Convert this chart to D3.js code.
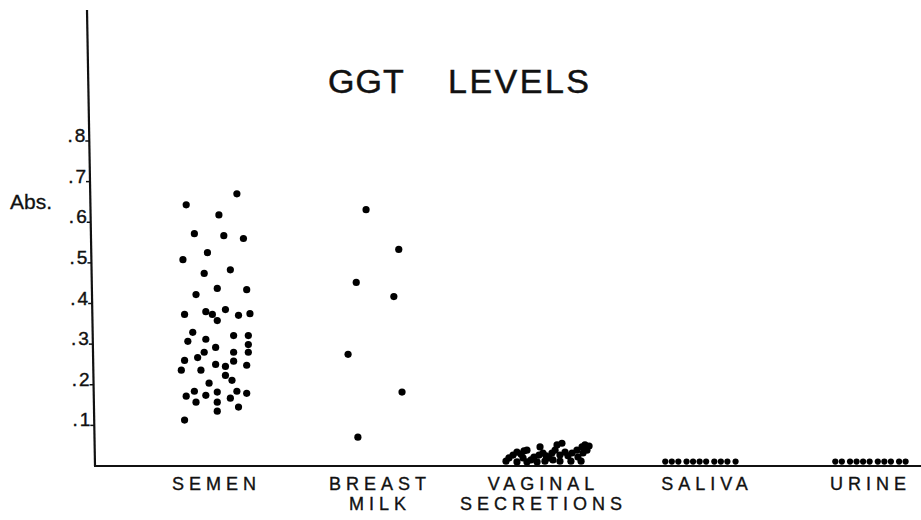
<!DOCTYPE html>
<html>
<head>
<meta charset="utf-8">
<script src="https://cdn.jsdelivr.net/npm/d3@7"></script>
<style>
  body { margin: 0; background: #fff; }
  text { font-family: "Liberation Sans", Arial, sans-serif; fill: #111; }
</style>
</head>
<body>
<div id="chart"></div>
<script>
// Categories along the bottom (label lines)
const categories = ["SEMEN", "BREAST MILK", "VAGINAL SECRETIONS", "SALIVA", "URINE"];
const categoryLines = [["SEMEN"], ["BREAST", "MILK"], ["VAGINAL", "SECRETIONS"], ["SALIVA"], ["URINE"]];
const yTicks = [0.1, 0.2, 0.3, 0.4, 0.5, 0.6, 0.7, 0.8];

// Absorbance readings per specimen type, with horizontal spread (in category-step units)
const semenValues = [0.670, 0.643, 0.618, 0.572, 0.567, 0.560, 0.525, 0.508, 0.474, 0.483,
    0.437, 0.434, 0.422, 0.373, 0.380, 0.373, 0.358, 0.385, 0.371, 0.375,
    0.329, 0.307, 0.312, 0.321, 0.321, 0.292, 0.299, 0.280, 0.267, 0.280,
    0.280, 0.260, 0.250, 0.245, 0.258, 0.248, 0.236, 0.236, 0.223, 0.211,
    0.204, 0.184, 0.172, 0.174, 0.182, 0.184, 0.179, 0.157, 0.157, 0.167,
    0.135, 0.145, 0.113];
const semenSpread = [0.14, -0.17, 0.03, -0.12, 0.06, 0.18, -0.04, -0.19, -0.06, 0.10,
    0.02, 0.20, -0.11, -0.18, -0.05, -0.01, 0.02, 0.07, 0.15, 0.22,
    -0.13, -0.16, -0.05, 0.12, 0.21, 0.01, 0.21, -0.06, -0.10, 0.12,
    0.21, -0.18, 0.01, 0.07, 0.12, 0.20, -0.20, -0.08, 0.07, 0.11,
    -0.03, -0.12, -0.17, -0.05, 0.02, 0.14, 0.20, -0.11, 0.02, 0.10,
    0.02, 0.15, -0.18];

const milkValues = [0.631, 0.533, 0.452, 0.417, 0.275, 0.182, 0.071];
const milkSpread = [-0.07, 0.13, -0.13, 0.10, -0.18, 0.15, -0.12];

const vaginalValues = [0.012, 0.020, 0.027, 0.034, 0.029, 0.037, 0.039, 0.020, 0.010, 0.015,
    0.022, 0.010, 0.047, 0.027, 0.032, 0.025, 0.012, 0.020, 0.032, 0.039,
    0.052, 0.015, 0.027, 0.056, 0.034, 0.025, 0.012, 0.032, 0.039, 0.022,
    0.047, 0.052, 0.032, 0.039, 0.049, 0.012, 0.012, 0.010];
const vaginalSpread = [-0.214, -0.196, -0.171, -0.147, -0.122, -0.104, -0.086, -0.110, -0.086, -0.061,
    -0.043, -0.024, -0.006, -0.012, 0.012, 0.031, 0.024, 0.049, 0.067, 0.086,
    0.098, 0.073, 0.116, 0.128, 0.147, 0.165, 0.183, 0.190, 0.220, 0.226,
    0.251, 0.269, 0.257, 0.281, 0.294, 0.245, 0.116, -0.147];

const salivaValues = [0.011, 0.011, 0.011, 0.011, 0.011, 0.011, 0.011, 0.011, 0.011, 0.011, 0.011];
const salivaSpread = [-0.24, -0.20, -0.16, -0.11, -0.07, -0.03, 0.01, 0.06, 0.10, 0.14, 0.19];

const urineValues = [0.011, 0.011, 0.011, 0.011, 0.011, 0.011, 0.011, 0.011, 0.011, 0.011, 0.011];
const urineSpread = [-0.20, -0.16, -0.11, -0.07, -0.03, 0.01, 0.06, 0.10, 0.14, 0.19, 0.23];

const seriesValues = [semenValues, milkValues, vaginalValues, salivaValues, urineValues];
const seriesSpread = [semenSpread, milkSpread, vaginalSpread, salivaSpread, urineSpread];

// Chart dimensions
const width = 921;
const height = 520;
const axisTop = 10;
const axisBottom = 466;

const svg = d3.create("svg")
    .attr("width", width)
    .attr("height", height);
document.getElementById("chart").append(svg.node());

// Scales
const x = d3.scalePoint()
    .domain(categories)
    .range([214, 868]);
const step = x(categories[1]) - x(categories[0]);

const y = d3.scaleLinear()
    .domain([0, 0.8])
    .range([axisBottom, 141]);

// The drawn vertical axis leans slightly to the right going down
const slantX = yy => 87 + (yy - axisTop) / (axisBottom - axisTop) * 8;

// Axis lines
svg.append("line")
    .attr("x1", slantX(axisTop)).attr("y1", axisTop)
    .attr("x2", slantX(axisBottom)).attr("y2", axisBottom)
    .attr("stroke", "#111").attr("stroke-width", 2.2);
svg.append("line")
    .attr("x1", slantX(axisBottom) - 1).attr("y1", axisBottom)
    .attr("x2", width).attr("y2", axisBottom)
    .attr("stroke", "#111").attr("stroke-width", 2.2);

// Y axis ticks and labels
const gy = svg.append("g")
    .call(d3.axisLeft(y)
        .tickValues(yTicks)
        .tickSize(4)
        .tickPadding(0)
        .tickFormat(d => d3.format(".1f")(d).replace("0.", ".")));
gy.select(".domain").remove();
gy.selectAll(".tick")
    .attr("transform", d => `translate(${slantX(y(d))},${y(d)})`);
gy.selectAll(".tick line").attr("stroke", "#111").attr("stroke-width", 1.5);
gy.selectAll(".tick text")
    .attr("dy", "0")
    .attr("y", 1)
    .attr("x", -2)
    .style("font-family", "'Liberation Sans', Arial, sans-serif")
    .style("font-size", "19px")
    .style("letter-spacing", "2px")
    .attr("stroke", "#111")
    .attr("stroke-width", 0.4)
    .attr("fill", "#111");

// Y axis title
svg.append("text")
    .attr("x", 10)
    .attr("y", 209)
    .style("font-size", "21px")
    .attr("stroke", "#111")
    .attr("stroke-width", 0.3)
    .text("Abs.");

// Title
svg.append("text")
    .attr("x", 328)
    .attr("y", 93)
    .style("font-size", "34px")
    .style("letter-spacing", "1px")
    .attr("stroke", "#111")
    .attr("stroke-width", 0.5)
    .text("GGT");
svg.append("text")
    .attr("x", 448)
    .attr("y", 93)
    .style("font-size", "34px")
    .style("letter-spacing", "2.5px")
    .attr("stroke", "#111")
    .attr("stroke-width", 0.5)
    .text("LEVELS");

// Category labels
categories.forEach((c, i) => {
    const t = svg.append("text")
        .attr("text-anchor", "middle")
        .style("font-size", "18px")
        .style("letter-spacing", "5px")
        .attr("stroke", "#111")
        .attr("stroke-width", 0.35);
    categoryLines[i].forEach((line, j) => {
        t.append("tspan")
            .attr("x", x(c) + 2.5)
            .attr("y", 490 + j * 20)
            .text(line);
    });
});

// Dots
const points = [];
categories.forEach((c, i) => {
    seriesValues[i].forEach((v, k) => {
        points.push({ cat: c, value: v, spread: seriesSpread[i][k], small: i >= 3 });
    });
});

svg.append("g")
    .selectAll("circle")
    .data(points)
    .join("circle")
    .attr("cx", d => x(d.cat) + d.spread * step)
    .attr("cy", d => y(d.value))
    .attr("r", d => d.small ? 3.1 : 3.6)
    .attr("fill", "#000");
</script>
</body>
</html>
